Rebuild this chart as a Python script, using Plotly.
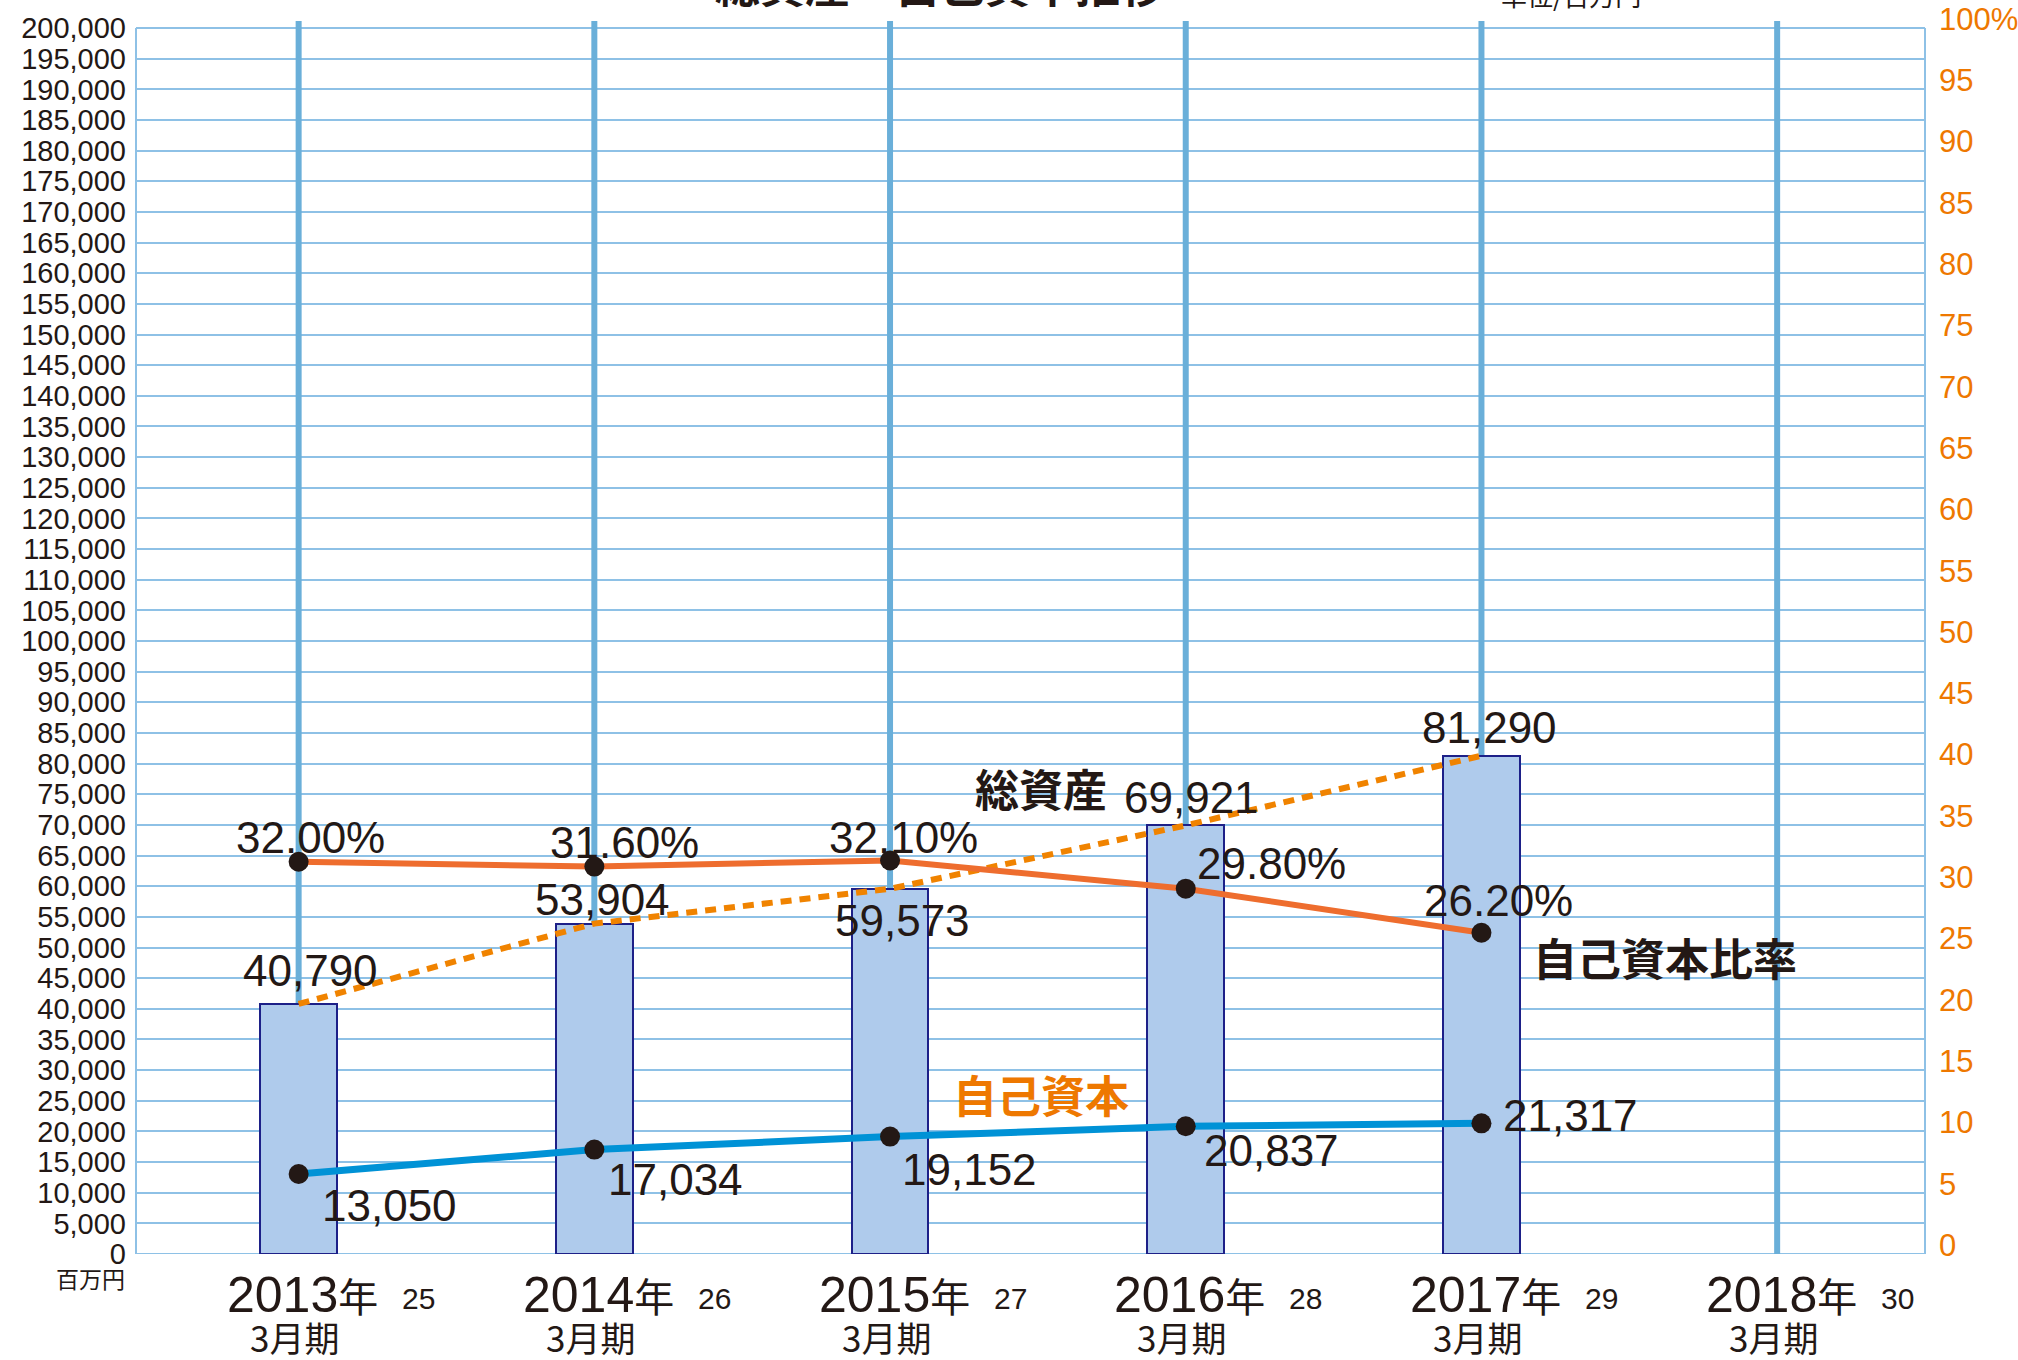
import plotly.graph_objects as go

# ---------------- data ----------------
years = ["2013", "2014", "2015", "2016", "2017", "2018"]
heisei = ["25", "26", "27", "28", "29", "30"]
period = "3月期"
total_assets = [40790, 53904, 59573, 69921, 81290]      # 総資産 (百万円)
equity = [13050, 17034, 19152, 20837, 21317]            # 自己資本 (百万円)
equity_ratio = [32.00, 31.60, 32.10, 29.80, 26.20]      # 自己資本比率 (%)

left_ticks = list(range(0, 200001, 5000))
right_ticks = list(range(0, 101, 5))

# label offsets (pixels) relative to their data points
ratio_off = [(12, 24), (30, 24), (13, 23), (86, 25), (17, 32)]
total_off = [(12, 33), (8, 24), (12, -32), (6, 28), (8, 28)]
equity_off = [(91, -31), (81, -30), (79, -33), (86, -24), (89, 8)]

# ---------------- style ----------------
FONT = "Liberation Sans, Arial, Noto Sans CJK JP, sans-serif"
JFONT = "Noto Sans CJK JP, sans-serif"
INK = "#231815"
GRID = "#8EC1E6"
VLINE = "#6AAFD9"
ORANGE_TXT = "#EE7800"
BAR_FILL = "#AFCBEC"
BAR_LINE = "#1D2088"

YMAX = 201150
cats = list(range(len(years)))
dcats = cats[:len(total_assets)]

fig = go.Figure()

fig.add_trace(go.Bar(
    x=dcats, y=total_assets, width=0.26,
    marker=dict(color=BAR_FILL, line=dict(color=BAR_LINE, width=2)),
    hoverinfo="skip", showlegend=False,
))
fig.add_trace(go.Scatter(
    x=dcats, y=total_assets, mode="lines",
    line=dict(color="#F08300", width=6, dash="11px,8px"),
    hoverinfo="skip", showlegend=False,
))
fig.add_trace(go.Scatter(
    x=dcats, y=equity, mode="lines+markers",
    line=dict(color="#0092D6", width=7),
    marker=dict(color=INK, size=20),
    hoverinfo="skip", showlegend=False,
))
fig.add_trace(go.Scatter(
    x=dcats, y=equity_ratio, mode="lines+markers", yaxis="y2",
    line=dict(color="#EE6D2E", width=6),
    marker=dict(color=INK, size=20),
    hoverinfo="skip", showlegend=False,
))

shapes = []
for c in cats:
    shapes.append(dict(type="line", xref="x", yref="y", x0=c, x1=c, y0=0, y1=YMAX,
                       line=dict(color=VLINE, width=6), layer="between"))
# frame (left, right, bottom)
for xp in (0, 1):
    shapes.append(dict(type="line", xref="paper", yref="y", x0=xp, x1=xp, y0=0, y1=200000,
                       line=dict(color=GRID, width=2), layer="between"))
shapes.append(dict(type="line", xref="paper", yref="y", x0=0, x1=1, y0=0, y1=0,
                   line=dict(color=GRID, width=2), layer="between"))

ann = []
# data labels
for i, v in enumerate(equity_ratio):
    ann.append(dict(x=i, y=v, xref="x", yref="y2", text=f"{v:.2f}%", showarrow=False,
                    xanchor="center", yanchor="middle",
                    xshift=ratio_off[i][0], yshift=ratio_off[i][1],
                    font=dict(size=44, color=INK, family=FONT)))
for i, v in enumerate(total_assets):
    ann.append(dict(x=i, y=v, xref="x", yref="y", text=f"{v:,}", showarrow=False,
                    xanchor="center", yanchor="middle",
                    xshift=total_off[i][0], yshift=total_off[i][1],
                    font=dict(size=44, color=INK, family=FONT)))
for i, v in enumerate(equity):
    ann.append(dict(x=i, y=v, xref="x", yref="y", text=f"{v:,}", showarrow=False,
                    xanchor="center", yanchor="middle",
                    xshift=equity_off[i][0], yshift=equity_off[i][1],
                    font=dict(size=44, color=INK, family=FONT)))

# category labels
for i, c in enumerate(cats):
    ann.append(dict(x=c, y=-0.0335, xref="x", yref="paper", xshift=4,
                    xanchor="center", yanchor="middle",
                    text=f"{years[i]}<span style='font-size:40px'>年</span>", showarrow=False,
                    font=dict(size=50, color=INK, family=FONT)))
    ann.append(dict(x=c, y=-0.0357, xref="x", yref="paper", xshift=120,
                    xanchor="center", yanchor="middle",
                    text=heisei[i], showarrow=False,
                    font=dict(size=30, color=INK, family=FONT)))
    ann.append(dict(x=c, y=-0.0672, xref="x", yref="paper", xshift=-4,
                    xanchor="center", yanchor="middle",
                    text=period, showarrow=False,
                    font=dict(size=35, color=INK, family=JFONT)))

# series names
ann.append(dict(x=0.5059, y=0.3779, xref="paper", yref="paper", text="<b>総資産</b>",
                xanchor="center", yanchor="middle",
                showarrow=False, font=dict(size=44, color=INK, family=JFONT)))
ann.append(dict(x=0.8549, y=0.2410, xref="paper", yref="paper", text="<b>自己資本比率</b>",
                xanchor="center", yanchor="middle",
                showarrow=False, font=dict(size=44, color=INK, family=JFONT)))
ann.append(dict(x=0.5056, y=0.1298, xref="paper", yref="paper", text="<b>自己資本</b>",
                xanchor="center", yanchor="middle",
                showarrow=False, font=dict(size=44, color=ORANGE_TXT, family=JFONT)))

# title, unit labels
ann.append(dict(x=0.4494, y=1.0025, xref="paper", yref="paper",
                xanchor="center", yanchor="bottom",
                text="<b>総資産・自己資本推移</b>", showarrow=False,
                font=dict(size=45, color=INK, family=JFONT)))
ann.append(dict(x=0.8021, y=1.0049, xref="paper", yref="paper",
                xanchor="center", yanchor="bottom",
                text="単位/百万円", showarrow=False,
                font=dict(size=26, color=INK, family=JFONT)))
ann.append(dict(x=-0.0257, y=-0.0195, xref="paper", yref="paper",
                xanchor="center", yanchor="middle",
                text="百万円", showarrow=False,
                font=dict(size=23, color=INK, family=JFONT)))

fig.update_layout(
    width=2018, height=1360,
    margin=dict(l=136, r=93, t=21, b=106, autoexpand=False),
    paper_bgcolor="white", plot_bgcolor="white",
    font=dict(family=FONT, color=INK),
    bargap=0,
    xaxis=dict(range=[-0.55, 5.5], showgrid=False, zeroline=False, showticklabels=False,
               showline=False, fixedrange=True, automargin=False),
    yaxis=dict(range=[0, YMAX], tickvals=left_ticks,
               ticktext=[f"{t:,}" for t in left_ticks],
               showgrid=True, gridcolor=GRID, gridwidth=2, zeroline=False, showline=False,
               tickfont=dict(size=29, color=INK, family=FONT), ticks="",
               ticklabelstandoff=9, fixedrange=True, automargin=False),
    yaxis2=dict(range=[0, YMAX / 2000], overlaying="y", side="right",
                tickvals=right_ticks,
                ticktext=[f"{t}%" if t == 100 else str(t) for t in right_ticks],
                showgrid=False, zeroline=False, showline=False, ticks="",
                tickfont=dict(size=31, color=ORANGE_TXT, family=FONT),
                ticklabelshift=-9, ticklabelstandoff=13, fixedrange=True,
                automargin=False, ticklabeloverflow="allow"),
    shapes=shapes, annotations=ann,
)

fig.write_html(
    "out.html",
    config={"responsive": False, "displayModeBar": False},
    post_script="document.body.style.margin='0';document.body.style.padding='0';"
                "document.body.style.overflow='hidden';",
)
